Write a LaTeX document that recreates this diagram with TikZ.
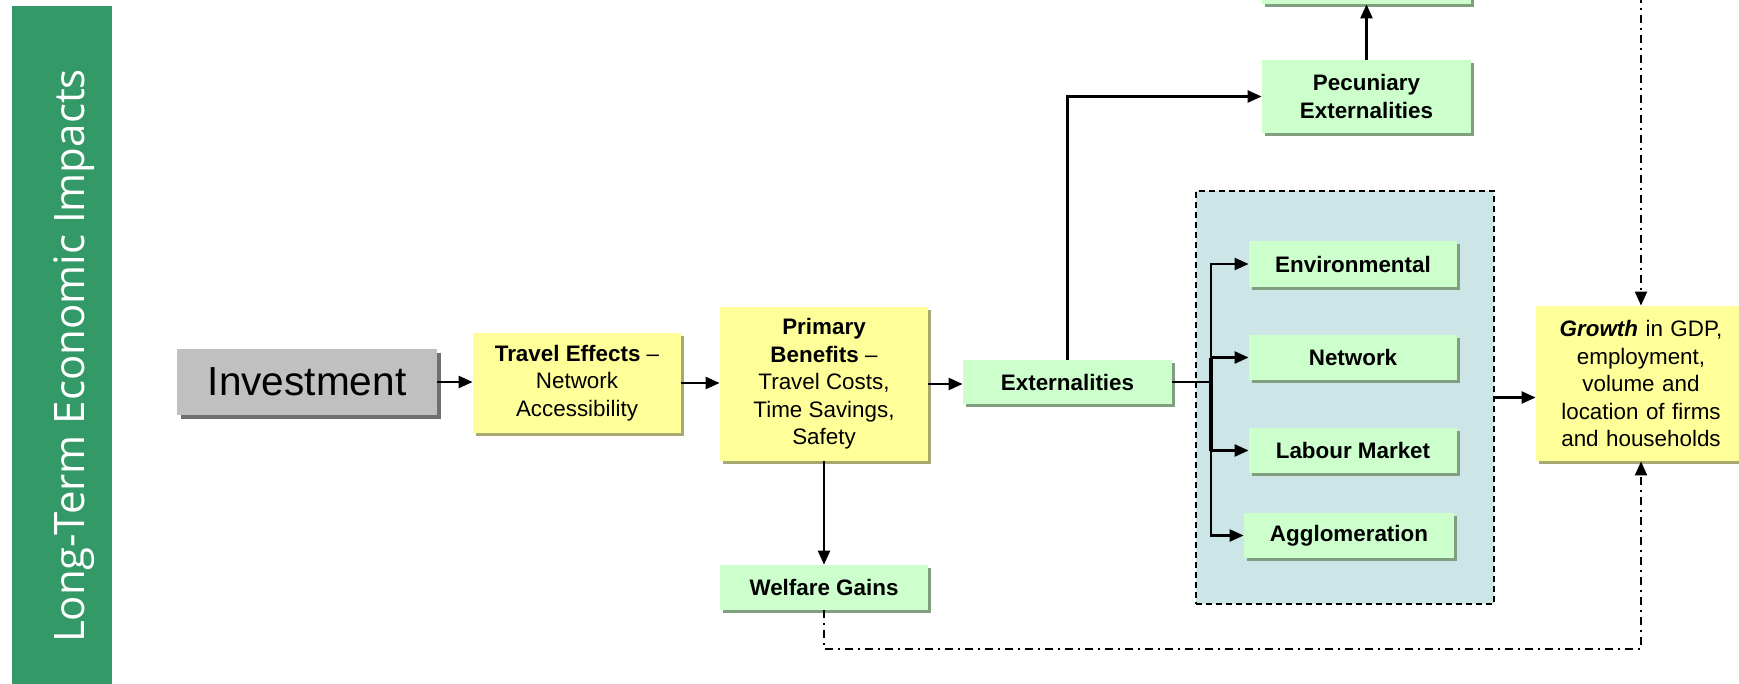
\documentclass[tikz,border=0pt]{standalone}
\usepackage{fontspec}
\setmainfont{Liberation Sans}
\newfontfamily\barfont{Open Sans}
\usetikzlibrary{arrows.meta,shadows}
\definecolor{barGreen}{HTML}{339966}
\definecolor{boxGreen}{HTML}{CCFFCC}
\definecolor{boxYellow}{HTML}{FFFF99}
\definecolor{boxGray}{HTML}{C0C0C0}
\definecolor{shGreen}{HTML}{7F9F7F}
\definecolor{shYellow}{HTML}{A8A870}
\definecolor{shGray}{HTML}{707070}
\definecolor{regionBlue}{HTML}{CCE6E8}
\tikzset{
  basebox/.style={draw=none, inner sep=0pt, align=center, anchor=center,
    font=\fontsize{11.2}{13.75}\selectfont},
  greenbox/.style={basebox, fill=boxGreen,
    drop shadow={shadow xshift=1.6pt, shadow yshift=-1.6pt, fill=shGreen, opacity=1}},
  yellowbox/.style={basebox, fill=boxYellow,
    drop shadow={shadow xshift=1.6pt, shadow yshift=-1.6pt, fill=shYellow, opacity=1}},
  graybox/.style={basebox, fill=boxGray, font=\fontsize{20.3}{24}\selectfont,
    drop shadow={shadow xshift=1.8pt, shadow yshift=-1.8pt, fill=shGray, opacity=1}},
  conn/.style={line width=1.2pt, draw=black},
  arr/.style={conn, -{Triangle[length=7pt,width=6pt]}},
  dashdot/.style={line width=1pt, dash pattern=on 4pt off 2.5pt on 1pt off 2.5pt},
}
\begin{document}
\begin{tikzpicture}[x=0.5pt,y=-0.5pt]
\useasboundingbox (0,0) rectangle (1739,684);
\clip (0,0) rectangle (1739,684);
\fill[white] (0,0) rectangle (1739,684);
% side bar
\fill[barGreen] (12,6) rectangle (112,690);
\node[rotate=90, text=white, font=\barfont\fontsize{21}{24}\selectfont, inner sep=0pt] (bartext) at (74,356) {Long-Term Economic Impacts};

% region
\node[draw=black, line width=0.9pt, dash pattern=on 3.2pt off 1.8pt, fill=regionBlue,
  minimum width=149pt, minimum height=206.5pt, inner sep=0pt] (region) at (1345,397.5) {};

% boxes
\node[graybox, minimum width=130pt, minimum height=33pt] (invest) at (307,382) {Investment};
\node[yellowbox, minimum width=104pt, minimum height=50pt] (travel) at (577,383)
  {\textbf{Travel Effects} –\\Network\\Accessibility};
\node[yellowbox, minimum width=104pt, minimum height=77pt] (primary) at (824,384)
  {\textbf{Primary}\\\textbf{Benefits} –\\Travel Costs,\\Time Savings,\\Safety};
\node[greenbox, minimum width=104.5pt, minimum height=22pt, font=\fontsize{11.2}{13.75}\selectfont\bfseries] (ext) at (1067.5,382) {Externalities};
\node[greenbox, minimum width=104pt, minimum height=22.5pt, font=\fontsize{11.2}{13.75}\selectfont\bfseries] (welfare) at (824,587.5) {Welfare Gains};
\node[greenbox, minimum width=104.5pt, minimum height=36.5pt, font=\fontsize{11.2}{14}\selectfont\bfseries] (pecun) at (1366.5,96.5) {Pecuniary\\Externalities};
\node[greenbox, minimum width=104.5pt, minimum height=32pt] (topbox) at (1366.5,-28) {};
\node[greenbox, minimum width=104pt, minimum height=23pt, font=\fontsize{11.2}{13.75}\selectfont\bfseries] (env) at (1353,264) {Environmental};
\node[greenbox, minimum width=104pt, minimum height=22.5pt, font=\fontsize{11.2}{13.75}\selectfont\bfseries] (net) at (1353,357.5) {Network};
\node[greenbox, minimum width=104pt, minimum height=22.5pt, font=\fontsize{11.2}{13.75}\selectfont\bfseries] (lab) at (1353,450.5) {Labour Market};
\node[greenbox, minimum width=105pt, minimum height=22.5pt, font=\fontsize{11.2}{13.75}\selectfont\bfseries] (agg) at (1349,535.5) {Agglomeration};
\node[yellowbox, minimum width=105pt, minimum height=77.5pt, text width=105pt] (growth) at (1641,383.5)
  {\textbf{\textit{Growth}} in GDP,\\employment,\\volume and\\location of firms\\and households};

% coordinates
\coordinate (brx) at (1211,0);
\coordinate (br) at (ext.east -| brx);
\coordinate (ddcorner) at (1641,649);
\coordinate (gtop) at (1641,-5);

% connectors
\draw[arr] (invest.east) -- (invest.east -| travel.west);
\draw[arr] (travel.east) -- (travel.east -| primary.west);
\draw[arr] (primary.east) -- (primary.east -| ext.west);
\draw[arr] (primary.south) -- (welfare.north);
\draw[arr] (ext.north) |- (pecun.west);
\draw[arr] (pecun.north) -- (topbox.south);
\draw[conn] (ext.east) -- (br);
\draw[conn, line width=1.7pt] (br |- net.west) -- (br |- lab.west);
\draw[arr] (br) |- (env.west);
\draw[arr] (br) |- (net.west);
\draw[arr] (br) |- (lab.west);
\draw[arr] (br) |- (agg.west);
\draw[arr] (region.east) -- (region.east -| growth.west);
\draw[dashdot, -{Triangle[length=7pt,width=6pt]}] (welfare.south) |- (ddcorner) -- (growth.south);
\draw[dashdot, -{Triangle[length=7pt,width=6pt]}] (gtop) -- (growth.north);
\end{tikzpicture}
\end{document}
